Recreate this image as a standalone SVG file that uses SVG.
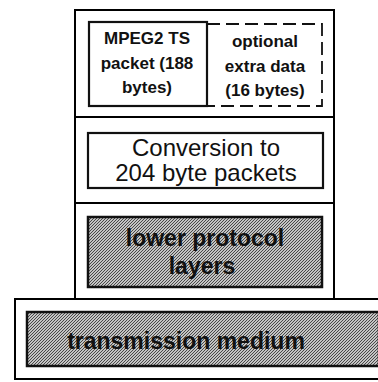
<svg xmlns="http://www.w3.org/2000/svg" width="378" height="382" viewBox="0 0 378 382">
<defs>
<pattern id="hatch" width="3" height="3" patternUnits="userSpaceOnUse">
<rect width="3" height="3" fill="#c4c4c4"/>
<path d="M0,3 L3,0" stroke="#3a3a3a" stroke-width="0.9"/>
</pattern>
</defs>
<style>
.frame{fill:#fff;stroke:#000;stroke-width:2}
.box{fill:#fff;stroke:#111;stroke-width:2.2}
.dash{fill:#fff;stroke:#111;stroke-width:1.8;stroke-dasharray:13 6}
.shade{fill:url(#hatch);stroke:#111;stroke-width:2.5}
.t{font-family:"Liberation Sans",Arial,sans-serif;text-anchor:middle;fill:#111}
.sm{font-size:17px;font-weight:bold}
.md{font-size:24px}
.sh{font-size:23px;font-weight:bold;fill:#111}
</style>
<g id="stack">
<rect class="frame" x="75" y="10" width="259" height="290"/>
<line x1="75" y1="117" x2="334" y2="117" stroke="#000" stroke-width="2"/>
<line x1="75" y1="203" x2="334" y2="203" stroke="#000" stroke-width="2"/>
</g>
<g id="medium">
<rect class="frame" x="15" y="299" width="370" height="80"/>
<rect class="shade" x="27" y="312" width="352" height="54"/>
<text class="t sh" x="186" y="349" font-size="24">transmission medium</text>
</g>
<g id="optional">
<rect class="dash" x="207" y="24" width="115" height="82"/>
<text class="t sm" x="265" y="47">optional</text>
<text class="t sm" x="265" y="72">extra data</text>
<text class="t sm" x="265" y="96">(16 bytes)</text>
</g>
<g id="mpeg">
<rect class="box" x="89" y="22" width="118" height="84"/>
<text class="t sm" x="147" y="44">MPEG2 TS</text>
<text class="t sm" x="147" y="69">packet (188</text>
<text class="t sm" x="147" y="93">bytes)</text>
</g>
<g id="conversion">
<rect class="box" x="88" y="133" width="235" height="55"/>
<text class="t md" x="206" y="156">Conversion to</text>
<text class="t md" x="206" y="181">204 byte packets</text>
</g>
<g id="lower">
<rect class="shade" x="88" y="217" width="234" height="70"/>
<text class="t sh" x="205" y="246">lower protocol</text>
<text class="t sh" x="202" y="274">layers</text>
</g>
<g id="connectors"></g>
</svg>
